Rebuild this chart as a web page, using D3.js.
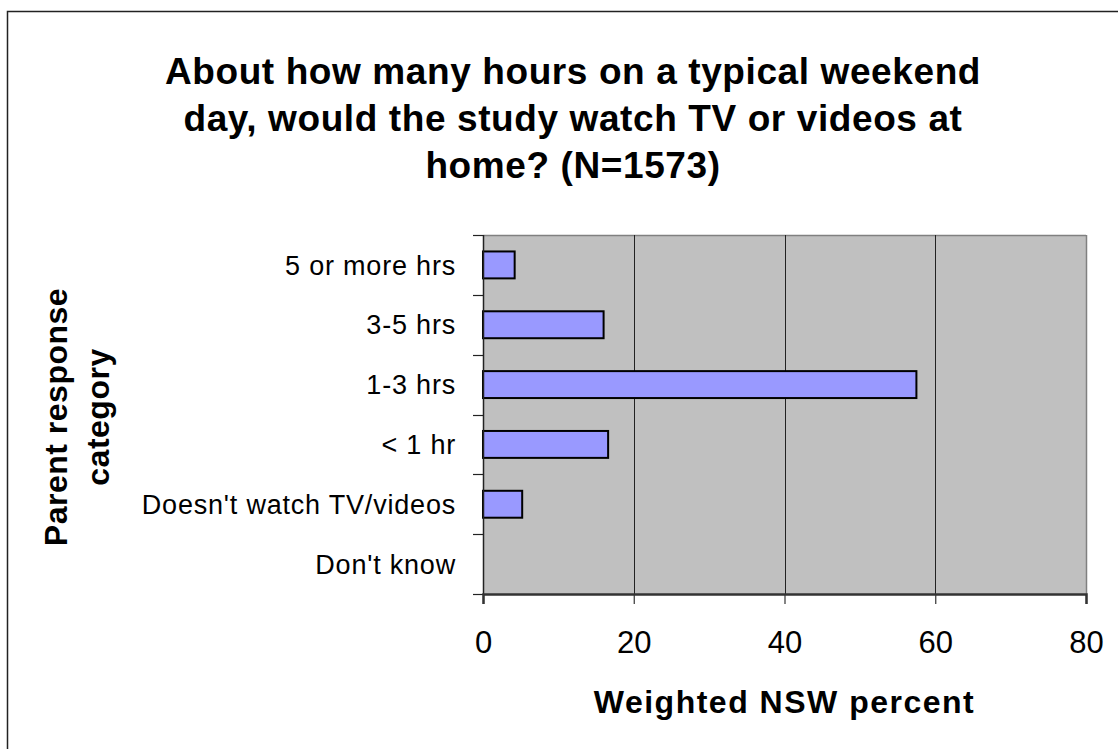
<!DOCTYPE html>
<html>
<head>
<meta charset="utf-8">
<script src="https://cdn.jsdelivr.net/npm/d3@7"></script>
<style>
  body { margin: 0; background: #fff; }
  svg { display: block; font-family: "Liberation Sans", Arial, sans-serif; }
</style>
</head>
<body>
<svg width="1118" height="749"></svg>
<script>
// chart values
const categories = ['5 or more hrs', '3-5 hrs', '1-3 hrs', '< 1 hr', "Doesn't watch TV/videos", "Don't know"];
const percents = [4.2, 16.0, 57.5, 16.6, 5.2, 0];
const xTicks = [0, 20, 40, 60, 80];
const titleLines = ['About how many hours on a typical weekend', 'day, would the study watch TV or videos at', 'home? (N=1573)'];

const data = categories.map((c, i) => ({ cat: c, val: percents[i] }));

const svg = d3.select('svg');
const margin = { top: 235, left: 483, bottom: 155, right: 32 };
const W = +svg.attr('width'), H = +svg.attr('height');
const innerW = W - margin.left - margin.right;
const innerH = H - margin.top - margin.bottom;

// outer frame
svg.append('rect')
  .attr('x', 7.5).attr('y', 11.5)
  .attr('width', 1200).attr('height', 900)
  .attr('fill', 'none').attr('stroke', '#222').attr('stroke-width', 1.5);

// title
svg.append('text')
  .attr('text-anchor', 'middle')
  .attr('font-weight', 'bold')
  .attr('font-size', 37)
  .attr('letter-spacing', 0.6)
  .selectAll('tspan')
  .data(titleLines)
  .join('tspan')
  .attr('x', 573)
  .attr('y', (d, i) => 84 + i * 47)
  .text(d => d);

const x = d3.scaleLinear().domain([0, 80]).range([0, innerW]);
const y = d3.scaleBand().domain(categories).range([0, innerH]).paddingInner(0.55).paddingOuter(0.275);
const yEdge = d3.scaleBand().domain(categories).range([0, innerH]);

const g = svg.append('g').attr('transform', `translate(${margin.left},${margin.top})`);

// plot background
g.append('rect').attr('width', innerW).attr('height', innerH).attr('fill', '#c0c0c0');

// top border
g.append('line').attr('x1', 0).attr('x2', innerW).attr('y1', 0.5).attr('y2', 0.5)
  .attr('stroke', '#808080').attr('stroke-width', 1.5);

// vertical gridlines
g.selectAll('.grid')
  .data(xTicks.slice(1))
  .join('line')
  .attr('x1', d => Math.round(x(d)) + 0.5).attr('x2', d => Math.round(x(d)) + 0.5)
  .attr('y1', 0).attr('y2', innerH)
  .attr('stroke', d => d === 80 ? '#808080' : '#222')
  .attr('stroke-width', d => d === 80 ? 1.5 : 1);

// bars
g.selectAll('.bar')
  .data(data.filter(d => d.val > 0))
  .join('rect')
  .attr('x', 0)
  .attr('y', d => y(d.cat))
  .attr('width', d => x(d.val))
  .attr('height', y.bandwidth())
  .attr('fill', '#9999ff')
  .attr('stroke', '#000')
  .attr('stroke-width', 2);

// y axis, ticks sit on the band edges
const yAxis = g.append('g');
yAxis.append('line').attr('x1', 0.5).attr('x2', 0.5).attr('y1', 0).attr('y2', innerH)
  .attr('stroke', '#222').attr('stroke-width', 1.5);
const edges = categories.map(c => yEdge(c)).concat([innerH]);
yAxis.selectAll('.ytick')
  .data(edges)
  .join('line')
  .attr('x1', -10).attr('x2', 0)
  .attr('y1', d => Math.round(d) + 0.5).attr('y2', d => Math.round(d) + 0.5)
  .attr('stroke', '#222').attr('stroke-width', 1.2);
yAxis.selectAll('.ylab')
  .data(categories)
  .join('text')
  .attr('x', -27)
  .attr('y', d => yEdge(d) + yEdge.bandwidth() / 2)
  .attr('dy', '0.36em')
  .attr('text-anchor', 'end')
  .attr('font-size', 27)
  .attr('letter-spacing', 0.8)
  .text(d => d);

// x axis
const xAxis = g.append('g')
  .attr('transform', `translate(0,${innerH})`)
  .call(d3.axisBottom(x).tickValues(xTicks).tickSize(10).tickPadding(27).tickFormat(d3.format('d')));
xAxis.select('.domain').attr('stroke', '#333').attr('stroke-width', 2.5);
xAxis.selectAll('.tick line').attr('stroke', '#333').attr('stroke-width', 1.2);
xAxis.selectAll('.tick text').attr('font-size', 31).attr('fill', '#000')
  .attr('font-family', '"Liberation Sans", Arial, sans-serif');

// axis titles
svg.append('text')
  .attr('x', margin.left + innerW / 2)
  .attr('y', 713)
  .attr('text-anchor', 'middle')
  .attr('font-weight', 'bold')
  .attr('font-size', 32)
  .attr('letter-spacing', 1.5)
  .text('Weighted NSW percent');

svg.append('text')
  .attr('transform', `translate(67,417) rotate(-90)`)
  .attr('text-anchor', 'middle')
  .attr('font-weight', 'bold')
  .attr('font-size', 32)
  .attr('letter-spacing', 0.5)
  .selectAll('tspan')
  .data(['Parent response', 'category'])
  .join('tspan')
  .attr('x', 0)
  .attr('y', (d, i) => i * 42)
  .text(d => d);
</script>
</body>
</html>
